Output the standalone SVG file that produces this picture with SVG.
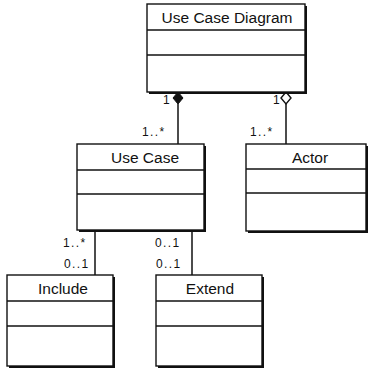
<svg xmlns="http://www.w3.org/2000/svg" width="369" height="368" viewBox="0 0 369 368">
  <defs>
    <style>
      .shadow { fill: #111; }
      .box { fill: #fff; stroke: #111; stroke-width: 1.4; }
      .sep { stroke: #111; stroke-width: 1.4; }
      .name { font-family: "Liberation Sans", Arial, sans-serif; font-size: 15.5px; font-weight: normal; fill: #111; text-anchor: middle; }
      .mult { font-family: "Liberation Sans", Arial, sans-serif; font-size: 12px; fill: #111; letter-spacing: 1.4px; }
      .conn { stroke: #111; stroke-width: 1.5; fill: none; }
    </style>
  </defs>

  <!-- associations -->
  <g id="connectors">
    <line class="conn" x1="178" y1="104" x2="178" y2="144"/>
    <path d="M178,92 L183,98 L178,104 L173,98 Z" fill="#111" stroke="#111" stroke-width="1"/>
    <line class="conn" x1="286" y1="104" x2="286" y2="144"/>
    <path d="M286,92 L291,98 L286,104 L281,98 Z" fill="#fff" stroke="#111" stroke-width="1.4"/>
    <line class="conn" x1="95" y1="231" x2="95" y2="275"/>
    <line class="conn" x1="192" y1="231" x2="192" y2="275"/>
    <text class="mult" x="163" y="104">1</text>
    <text class="mult" x="273" y="104">1</text>
    <text class="mult" x="142" y="136">1..*</text>
    <text class="mult" x="250" y="136">1..*</text>
    <text class="mult" x="63" y="247">1..*</text>
    <text class="mult" x="155" y="247">0..1</text>
    <text class="mult" x="64" y="268">0..1</text>
    <text class="mult" x="156" y="268">0..1</text>
  </g>

  <g id="use-case-diagram">
    <rect class="shadow" x="149" y="6" width="158" height="88"/>
    <rect class="box" x="147" y="4" width="158" height="88"/>
    <line class="sep" x1="147" y1="30" x2="305" y2="30"/>
    <line class="sep" x1="147" y1="55" x2="305" y2="55"/>
    <text class="name" x="227" y="23">Use Case Diagram</text>
  </g>

  <g id="use-case">
    <rect class="shadow" x="79" y="146" width="127" height="86"/>
    <rect class="box" x="77" y="144" width="127" height="86"/>
    <line class="sep" x1="77" y1="170" x2="204" y2="170"/>
    <line class="sep" x1="77" y1="194" x2="204" y2="194"/>
    <text class="name" x="145" y="163">Use Case</text>
  </g>

  <g id="actor">
    <rect class="shadow" x="248" y="146" width="120" height="87"/>
    <rect class="box" x="246" y="144" width="120" height="87"/>
    <line class="sep" x1="246" y1="169" x2="366" y2="169"/>
    <line class="sep" x1="246" y1="193" x2="366" y2="193"/>
    <text class="name" x="310" y="163">Actor</text>
  </g>

  <g id="include">
    <rect class="shadow" x="9" y="277" width="106" height="92"/>
    <rect class="box" x="7" y="275" width="106" height="91"/>
    <line class="sep" x1="7" y1="301" x2="113" y2="301"/>
    <line class="sep" x1="7" y1="326" x2="113" y2="326"/>
    <text class="name" x="63" y="294">Include</text>
  </g>

  <g id="extend">
    <rect class="shadow" x="158" y="277" width="106" height="92"/>
    <rect class="box" x="156" y="275" width="106" height="91"/>
    <line class="sep" x1="156" y1="301" x2="262" y2="301"/>
    <line class="sep" x1="156" y1="326" x2="262" y2="326"/>
    <text class="name" x="210" y="294">Extend</text>
  </g>
</svg>
